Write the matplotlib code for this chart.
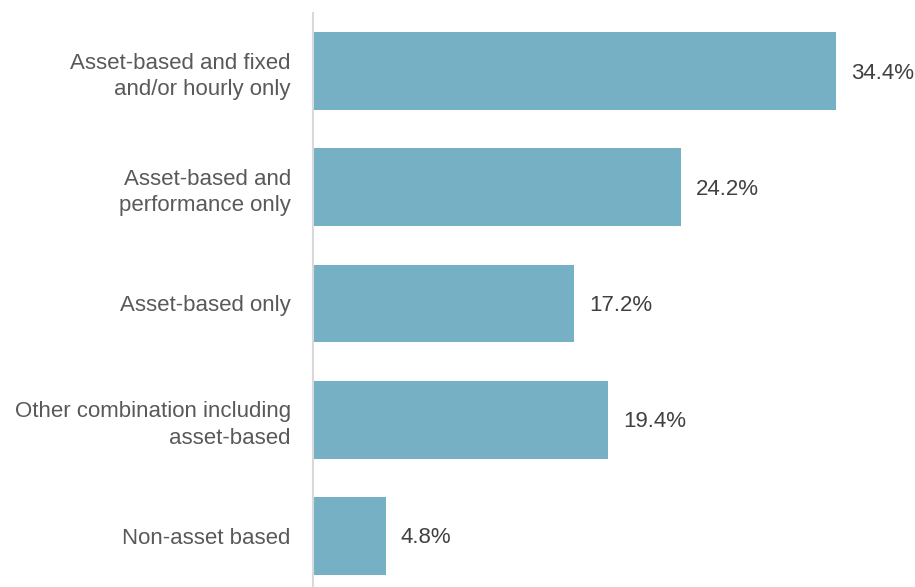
import matplotlib
matplotlib.use("Agg")
import matplotlib.pyplot as plt

categories = ["Asset-based and fixed\nand/or hourly only",
              "Asset-based and\nperformance only",
              "Asset-based only",
              "Other combination including\nasset-based",
              "Non-asset based"]
values = [34.4, 24.2, 17.2, 19.4, 4.8]
value_labels = ["34.4%", "24.2%", "17.2%", "19.4%", "4.8%"]

plt.rcParams['font.family'] = ['Liberation Sans', 'DejaVu Sans']
W, H = 915, 587
fig = plt.figure(figsize=(W/100, H/100), dpi=100)
ax = fig.add_axes([313/W, 0, (W-313)/W, (587-13)/H])
y = list(range(len(categories)))
ax.barh(y, values, height=0.67, color="#76B0C4")
ax.set_ylim(4.44, -0.5)
ax.set_xlim(0, 602/15.2)
for spine in ["top", "right", "bottom"]:
    ax.spines[spine].set_visible(False)
ax.spines["left"].set_color("#D9D9D9")
ax.spines["left"].set_linewidth(1.5)
ax.set_xticks([])
ax.set_yticks(y)
ax.set_yticklabels(categories, fontsize=16, color="#595959", linespacing=1.35, ha="right")
ax.tick_params(axis="y", length=0, pad=16)
for yi, v, lab in zip(y, values, value_labels):
    ax.annotate(lab, (v, yi), xytext=(15, -2), textcoords="offset pixels",
                va="center", ha="left", fontsize=16, color="#404040")
fig.savefig("out.png", dpi=100)
